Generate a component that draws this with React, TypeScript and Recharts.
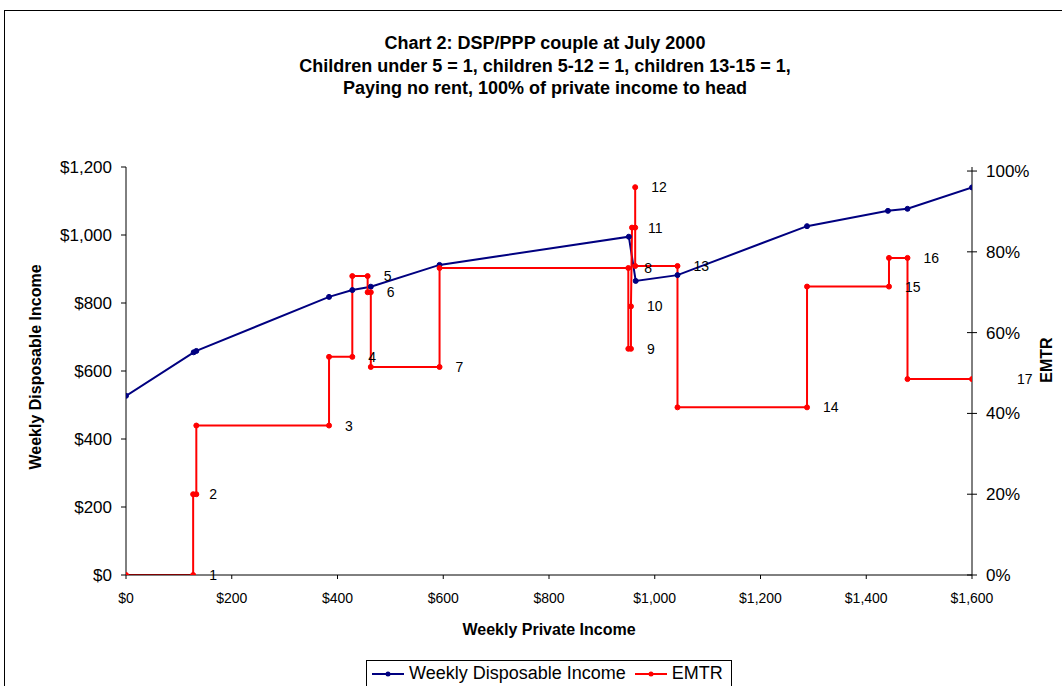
import React from 'react';
import { LineChart, Line, XAxis, YAxis, Legend, LabelList, Label } from 'recharts';

// Blue series: weekly disposable income
const incomeX = [0, 128, 133, 384, 428, 463, 593, 951, 964, 1043, 1288, 1441, 1478, 1600];
const disposableIncome = [527, 655, 659, 818, 838, 848, 912, 995, 865, 882, 1026, 1071, 1077, 1140];

// Red series: EMTR (step points)
const emtrX = [0, 127, 127, 133, 133, 384, 384, 428, 428, 457, 457, 463, 463, 593, 593, 950, 950, 955, 955, 957, 963, 963, 963, 1043, 1043, 1288, 1288, 1443, 1443, 1478, 1478, 1600];
const emtrRate = [0, 0, 0.2, 0.2, 0.37, 0.37, 0.54, 0.54, 0.74, 0.74, 0.7, 0.7, 0.515, 0.515, 0.76, 0.76, 0.56, 0.56, 0.665, 0.86, 0.86, 0.96, 0.765, 0.765, 0.415, 0.415, 0.714, 0.714, 0.785, 0.785, 0.485, 0.485];
const emtrLabels = ['', '1', '2', '', '', '3', '', '4', '', '5', '', '6', '', '7', '', '8', '', '9', '10', '11', '', '12', '', '13', '', '14', '', '15', '', '16', '', '17'];

const xTicks = [0, 200, 400, 600, 800, 1000, 1200, 1400, 1600];
const leftTicks = [0, 200, 400, 600, 800, 1000, 1200];
const rightTicks = [0, 0.2, 0.4, 0.6, 0.8, 1.0];

const titleLines = [
  'Chart 2: DSP/PPP couple at July 2000',
  'Children under 5 = 1, children 5-12 = 1, children 13-15 = 1,',
  'Paying no rent, 100% of private income to head',
];

const incomeData = incomeX.map((x, i) => ({ x, income: disposableIncome[i] }));
const emtrData = emtrX.map((x, i) => ({ x, rate: emtrRate[i], label: emtrLabels[i] }));

const FONT = '"Liberation Sans", Arial, sans-serif';
const BLUE = '#000080';
const RED = '#FF0000';

const money = (v: number) => '$' + v.toLocaleString('en-US');
const pct = (v: number) => Math.round(v * 100) + '%';

const RIGHT_TICK_SIZE = 5;
const RIGHT_TICK_MARGIN = 9;

const RightTick = (props: any) => {
  const { x, y, payload } = props;
  const ax = x - RIGHT_TICK_SIZE - RIGHT_TICK_MARGIN;
  return (
    <g>
      <line x1={ax - 5} x2={ax + 5} y1={y} y2={y} stroke="#000" strokeWidth={1} />
      <text x={x} y={y} dy={6} textAnchor="start" fontSize={17} fontFamily={FONT} fill="#000">
        {pct(payload.value)}
      </text>
    </g>
  );
};

const renderPointLabel = (props: any) => {
  const { x, y, value } = props;
  if (!value) return null;
  const dx = value === '17' ? 45 : 16;
  return (
    <text x={x + dx} y={y} dy={5} fontSize={14} fontFamily={FONT} fill="#000" textAnchor="start">
      {value}
    </text>
  );
};

const renderLegend = () => (
  <div
    style={{
      boxSizing: 'border-box',
      width: 366,
      height: 27,
      border: '1px solid #000',
      background: '#fff',
      display: 'flex',
      alignItems: 'center',
      fontFamily: FONT,
      fontSize: 18,
      color: '#000',
      paddingLeft: 5,
      whiteSpace: 'nowrap',
      overflow: 'hidden',
    }}
  >
    <svg width={32} height={10} style={{ marginRight: 5, flex: 'none' }}>
      <line x1={0} x2={32} y1={5} y2={5} stroke={BLUE} strokeWidth={2} />
      <circle cx={16} cy={5} r={2.5} fill={BLUE} />
    </svg>
    <span>Weekly Disposable Income</span>
    <svg width={32} height={10} style={{ marginLeft: 9, marginRight: 5, flex: 'none' }}>
      <line x1={0} x2={32} y1={5} y2={5} stroke={RED} strokeWidth={2} />
      <circle cx={16} cy={5} r={2.5} fill={RED} />
    </svg>
    <span>EMTR</span>
  </div>
);

export default function App() {
  return (
    <div
      style={{
        position: 'absolute',
        left: 4,
        top: 10,
        width: 1062,
        height: 692,
        border: '1px solid #000',
        boxSizing: 'border-box',
        background: '#fff',
        fontFamily: FONT,
      }}
    >
      <div
        style={{
          position: 'absolute',
          left: 0,
          top: 21,
          width: 1080,
          textAlign: 'center',
          fontWeight: 'bold',
          fontSize: 18,
          lineHeight: '22.5px',
          color: '#000',
        }}
      >
        {titleLines.map((t) => (
          <div key={t}>{t}</div>
        ))}
      </div>
      <LineChart
        width={1056}
        height={688}
        margin={{ top: 156, right: 0, left: 0, bottom: 37 }}
        style={{ position: 'absolute', left: 0, top: 0 }}
      >
        <XAxis
          dataKey="x"
          type="number"
          domain={[0, 1600]}
          ticks={xTicks}
          tickFormatter={money}
          height={60}
          tickSize={4}
          tickMargin={14}
          stroke="#000"
          tick={{ fontSize: 14, fontFamily: FONT, fill: '#000' }}
          allowDataOverflow
        >
          <Label
            content={(p: any) => {
              const vb = p.viewBox;
              return (
                <text
                  x={vb.x + vb.width / 2}
                  y={vb.y + 54}
                  dy={6}
                  textAnchor="middle"
                  fontSize={16}
                  fontWeight="bold"
                  fontFamily={FONT}
                  fill="#000"
                >
                  Weekly Private Income
                </text>
              );
            }}
          />
        </XAxis>
        <YAxis
          yAxisId="left"
          orientation="left"
          domain={[0, 1200]}
          ticks={leftTicks}
          tickFormatter={money}
          width={121}
          tickSize={5}
          tickMargin={9}
          stroke="#000"
          tick={{ fontSize: 17, fontFamily: FONT, fill: '#000' }}
          allowDataOverflow
        >
          <Label
            content={(p: any) => {
              const vb = p.viewBox;
              const cx = vb.x + vb.width - 91;
              const cy = vb.y + vb.height / 2 - 4;
              return (
                <text
                  x={cx}
                  y={cy}
                  dy={6}
                  transform={`rotate(-90, ${cx}, ${cy})`}
                  textAnchor="middle"
                  fontSize={16}
                  fontWeight="bold"
                  fontFamily={FONT}
                  fill="#000"
                >
                  Weekly Disposable Income
                </text>
              );
            }}
          />
        </YAxis>
        <YAxis
          yAxisId="right"
          orientation="right"
          domain={[0, 1.01]}
          ticks={rightTicks}
          width={89}
          tickSize={RIGHT_TICK_SIZE}
          tickMargin={RIGHT_TICK_MARGIN}
          tickLine={false}
          stroke="#000"
          tick={<RightTick />}
          allowDataOverflow
        >
          <Label
            content={(p: any) => {
              const vb = p.viewBox;
              const cx = vb.x + 74;
              const cy = vb.y + vb.height / 2 - 11;
              return (
                <text
                  x={cx}
                  y={cy}
                  dy={6}
                  transform={`rotate(-90, ${cx}, ${cy})`}
                  textAnchor="middle"
                  fontSize={16}
                  fontWeight="bold"
                  fontFamily={FONT}
                  fill="#000"
                >
                  EMTR
                </text>
              );
            }}
          />
        </YAxis>
        <Legend content={renderLegend} wrapperStyle={{ top: 649, left: 361, width: 366, height: 27 }} />
        <Line
          yAxisId="left"
          data={incomeData}
          dataKey="income"
          name="Weekly Disposable Income"
          stroke={BLUE}
          strokeWidth={2}
          dot={{ r: 2.5, fill: BLUE, stroke: BLUE, strokeWidth: 1 }}
          activeDot={false}
          isAnimationActive={false}
        />
        <Line
          yAxisId="right"
          data={emtrData}
          dataKey="rate"
          name="EMTR"
          stroke={RED}
          strokeWidth={2}
          dot={{ r: 2.5, fill: RED, stroke: RED, strokeWidth: 1 }}
          activeDot={false}
          isAnimationActive={false}
        >
          <LabelList dataKey="label" content={renderPointLabel} />
        </Line>
      </LineChart>
    </div>
  );
}
